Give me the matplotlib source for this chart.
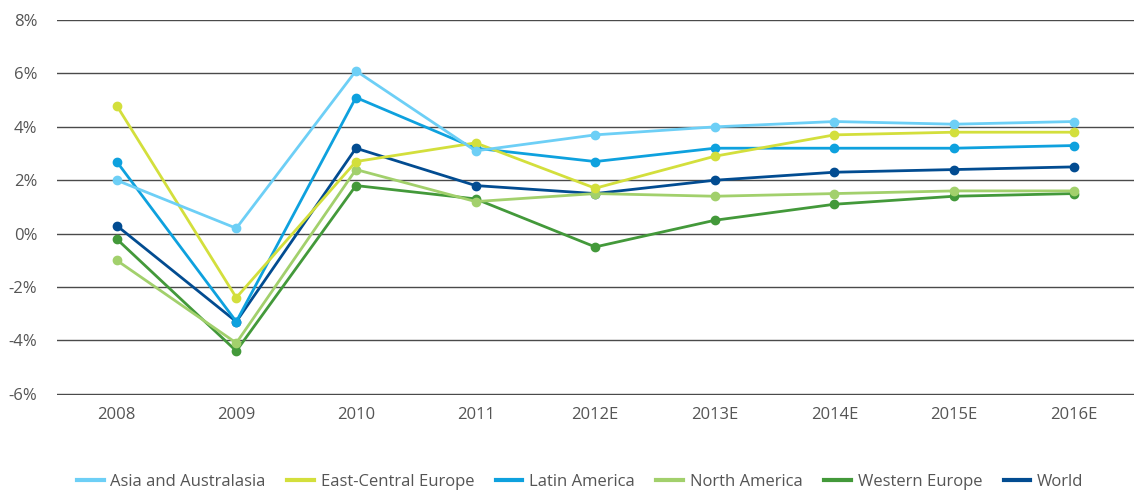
import matplotlib.pyplot as plt
from matplotlib.ticker import FuncFormatter

years = ['2008', '2009', '2010', '2011', '2012E', '2013E', '2014E', '2015E', '2016E']

asia = [2.0, 0.2, 6.1, 3.1, 3.7, 4.0, 4.2, 4.1, 4.2]
east_central = [4.8, -2.4, 2.7, 3.4, 1.7, 2.9, 3.7, 3.8, 3.8]
latin = [2.7, -3.3, 5.1, 3.2, 2.7, 3.2, 3.2, 3.2, 3.3]
north_america = [-1.0, -4.1, 2.4, 1.2, 1.5, 1.4, 1.5, 1.6, 1.6]
western_europe = [-0.2, -4.4, 1.8, 1.3, -0.5, 0.5, 1.1, 1.4, 1.5]
world = [0.3, -3.3, 3.2, 1.8, 1.5, 2.0, 2.3, 2.4, 2.5]

series = [
    ('Asia and Australasia', asia, '#6dcff6'),
    ('East-Central Europe', east_central, '#d3df3c'),
    ('Latin America', latin, '#0ea1de'),
    ('North America', north_america, '#a2d06c'),
    ('Western Europe', western_europe, '#43993a'),
    ('World', world, '#024c91'),
]

plt.rcParams['font.family'] = ['Open Sans', 'DejaVu Sans']

fig = plt.figure(figsize=(11.37, 4.91), dpi=100)
ax = fig.add_axes([0.050, 0.196, 0.947, 0.763])

x = list(range(len(years)))
n = len(series)
for i, (name, vals, col) in enumerate(series):
    # later series in the list sit underneath (World drawn first)
    ax.plot(x, vals, color=col, lw=2, marker='o', ms=6, label=name, zorder=3 + n - i)

ax.set_xlim(-0.5, len(years) - 0.5)
ax.set_ylim(-6.04, 8)
ax.set_yticks(range(-6, 9, 2))
ax.yaxis.set_major_formatter(FuncFormatter(lambda v, p: '%d%%' % v))
ax.set_xticks(x)
ax.set_xticklabels(years)
ax.grid(axis='y', color='#4a4a4a', lw=1)
ax.set_axisbelow(True)
for s in ax.spines.values():
    s.set_visible(False)
ax.tick_params(axis='both', length=0, labelsize=12, labelcolor='#555555')
ax.tick_params(axis='y', pad=14)
ax.tick_params(axis='x', pad=9)

leg = ax.legend(loc='center', bbox_to_anchor=(0.486, -0.233), ncol=6, frameon=False,
                fontsize=12, handlelength=1.6, handletextpad=0.4, columnspacing=1.3,
                labelcolor='#555555')
for h in leg.legend_handles:
    h.set_marker('')
    h.set_linewidth(3)

fig.savefig('out.png', dpi=100)
